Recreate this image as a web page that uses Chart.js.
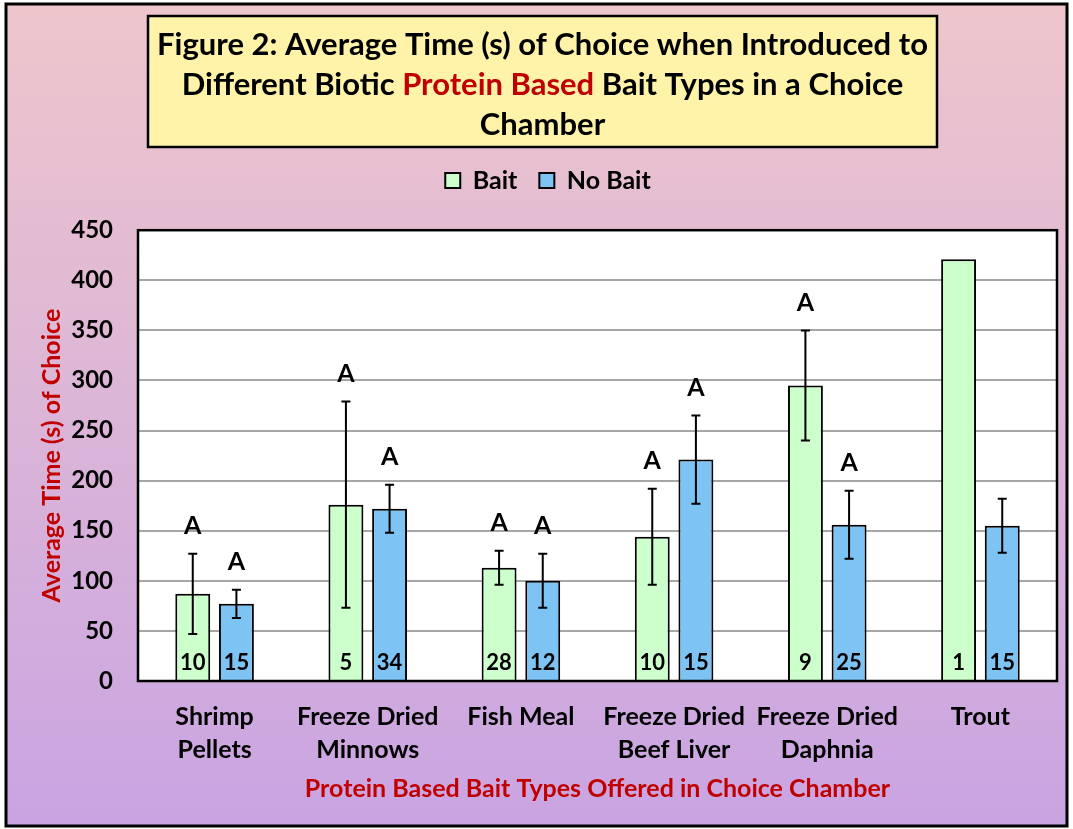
<!DOCTYPE html>
<html>
<head>
<meta charset="utf-8">
<title>Figure 2</title>
<script src="https://cdn.jsdelivr.net/npm/chart.js@4.4.0/dist/chart.umd.min.js"></script>
<style>
  html, body { margin: 0; padding: 0; background: #ffffff; }
  canvas { display: block; }
</style>
</head>
<body>
<canvas id="baitChart" width="1073" height="829"></canvas>
<script>
// data
const categories = [['Shrimp', 'Pellets'], ['Freeze Dried', 'Minnows'], ['Fish Meal'], ['Freeze Dried', 'Beef Liver'], ['Freeze Dried', 'Daphnia'], ['Trout']];
const baitMeans = [87, 176, 113, 144, 295, 421];
const baitErrors = [40, 103, 17, 48, 55, null];
const noBaitMeans = [77, 172, 100, 221, 156, 155];
const noBaitErrors = [14, 24, 27, 44, 34, 27];
const baitN = [10, 5, 28, 10, 9, 1];
const noBaitN = [15, 34, 12, 15, 25, 15];
const baitLetters = ['A', 'A', 'A', 'A', 'A', ''];
const noBaitLetters = ['A', 'A', 'A', 'A', 'A', ''];
const yMin = 0, yMax = 450, yStep = 50;

const titleLines = [
    [['Figure 2: Average Time (s) of Choice when Introduced to', '#000000']],
    [['Different Biotic ', '#000000'], ['Protein Based', '#c00000'], [' Bait Types in a Choice', '#000000']],
    [['Chamber', '#000000']]
];

const FONT = 'Lato';
const RED = '#c00000';
Chart.defaults.font.family = FONT;
Chart.defaults.font.weight = 'bold';
Chart.defaults.color = '#000000';

// background, frame and the yellow title box
const backdrop = {
    id: 'backdrop',
    beforeDraw(chart) {
        const ctx = chart.ctx;
        const a = chart.chartArea;
        ctx.save();
        const g = ctx.createLinearGradient(0, 4, 0, 826);
        g.addColorStop(0, '#eec6cc');
        g.addColorStop(1, '#c9a4e2');
        ctx.fillStyle = g;
        ctx.fillRect(6, 4, 1061, 822);
        ctx.lineWidth = 3;
        ctx.strokeStyle = '#000000';
        ctx.strokeRect(6, 4, 1061, 822);

        ctx.fillStyle = '#fff2a9';
        ctx.fillRect(148, 16, 789, 131);
        ctx.lineWidth = 2.5;
        ctx.strokeRect(148, 16, 789, 131);

        ctx.font = 'bold 31px ' + FONT;
        ctx.textBaseline = 'middle';
        ctx.textAlign = 'left';
        titleLines.forEach((parts, i) => {
            const total = parts.reduce((s, p) => s + ctx.measureText(p[0]).width, 0);
            let x = 542.5 - total / 2;
            parts.forEach(p => {
                ctx.fillStyle = p[1];
                ctx.fillText(p[0], x, 45 + i * 40);
                x += ctx.measureText(p[0]).width;
            });
        });

        ctx.fillStyle = '#ffffff';
        ctx.fillRect(a.left, a.top, a.right - a.left, a.bottom - a.top);
        ctx.restore();
    },
    afterDatasetsDraw(chart) {
        const ctx = chart.ctx;
        const a = chart.chartArea;
        ctx.save();
        ctx.lineWidth = 2.5;
        ctx.strokeStyle = '#000000';
        ctx.strokeRect(a.left, a.top, a.right - a.left, a.bottom - a.top);
        ctx.restore();
    }
};

// error bars, letters over them and n inside the bars
const extras = {
    id: 'extras',
    afterDatasetsDraw(chart) {
        const ctx = chart.ctx;
        const yScale = chart.scales.y;
        const zero = yScale.getPixelForValue(0);
        ctx.save();
        chart.data.datasets.forEach((ds, di) => {
            const meta = chart.getDatasetMeta(di);
            meta.data.forEach((bar, i) => {
                const v = ds.data[i];
                const e = ds.errors[i];
                let top = yScale.getPixelForValue(v);
                if (e != null) {
                    top = yScale.getPixelForValue(v + e);
                    const bot = yScale.getPixelForValue(v - e);
                    ctx.strokeStyle = '#000000';
                    ctx.lineWidth = 2;
                    ctx.beginPath();
                    ctx.moveTo(bar.x, top);
                    ctx.lineTo(bar.x, bot);
                    ctx.moveTo(bar.x - 4.5, top);
                    ctx.lineTo(bar.x + 4.5, top);
                    ctx.moveTo(bar.x - 4.5, bot);
                    ctx.lineTo(bar.x + 4.5, bot);
                    ctx.stroke();
                }
                ctx.fillStyle = '#000000';
                ctx.textAlign = 'center';
                if (ds.letters[i]) {
                    ctx.font = 'bold 25px ' + FONT;
                    ctx.textBaseline = 'bottom';
                    ctx.fillText(ds.letters[i], bar.x, top - 15);
                }
                ctx.font = 'bold 22px ' + FONT;
                ctx.textBaseline = 'middle';
                ctx.fillText(String(ds.counts[i]), bar.x, zero - 18);
            });
        });
        ctx.restore();
    }
};

new Chart(document.getElementById('baitChart'), {
    type: 'bar',
    data: {
        labels: categories,
        datasets: [
            {
                label: 'Bait',
                data: baitMeans,
                errors: baitErrors,
                counts: baitN,
                letters: baitLetters,
                backgroundColor: '#ccffcc',
                borderColor: '#000000',
                borderWidth: 2
            },
            {
                label: 'No Bait',
                data: noBaitMeans,
                errors: noBaitErrors,
                counts: noBaitN,
                letters: noBaitLetters,
                backgroundColor: '#7dc4f5',
                borderColor: '#000000',
                borderWidth: 2
            }
        ]
    },
    options: {
        responsive: false,
        animation: false,
        categoryPercentage: 0.57,
        barPercentage: 0.8,
        layout: { padding: { top: 146, right: 16, bottom: 0, left: 39 } },
        plugins: {
            legend: {
                position: 'top',
                labels: {
                    boxWidth: 15,
                    boxHeight: 15,
                    padding: 22,
                    color: '#000000',
                    font: { size: 25, weight: 'bold' }
                }
            },
            // spacer between legend and plot area
            subtitle: {
                display: true,
                text: ' ',
                weight: 0,
                font: { size: 1 },
                padding: { top: 0, bottom: 26 }
            },
            tooltip: { enabled: false }
        },
        scales: {
            x: {
                grid: { display: false },
                border: { display: false },
                ticks: {
                    color: '#000000',
                    padding: 11,
                    maxRotation: 0,
                    autoSkip: false,
                    font: { size: 25, weight: 'bold', lineHeight: 1.32 }
                },
                title: {
                    display: true,
                    text: 'Protein Based Bait Types Offered in Choice Chamber',
                    color: RED,
                    font: { size: 25, weight: 'bold' },
                    padding: { top: 0, bottom: 25 }
                },
                afterFit(scale) { scale.height = 148; }
            },
            y: {
                min: yMin,
                max: yMax,
                grid: { color: '#a6a6a6', lineWidth: 2, drawTicks: false },
                border: { display: false },
                ticks: {
                    stepSize: yStep,
                    padding: 25,
                    color: '#000000',
                    font: { size: 24, weight: 'bold' }
                },
                title: {
                    display: true,
                    text: 'Average Time (s) of Choice',
                    color: RED,
                    font: { size: 25, weight: 'bold', lineHeight: 1 },
                    padding: { top: 0, bottom: 0 }
                },
                afterFit(scale) { scale.width = 99; }
            }
        }
    },
    plugins: [backdrop, extras]
});
</script>
</body>
</html>
